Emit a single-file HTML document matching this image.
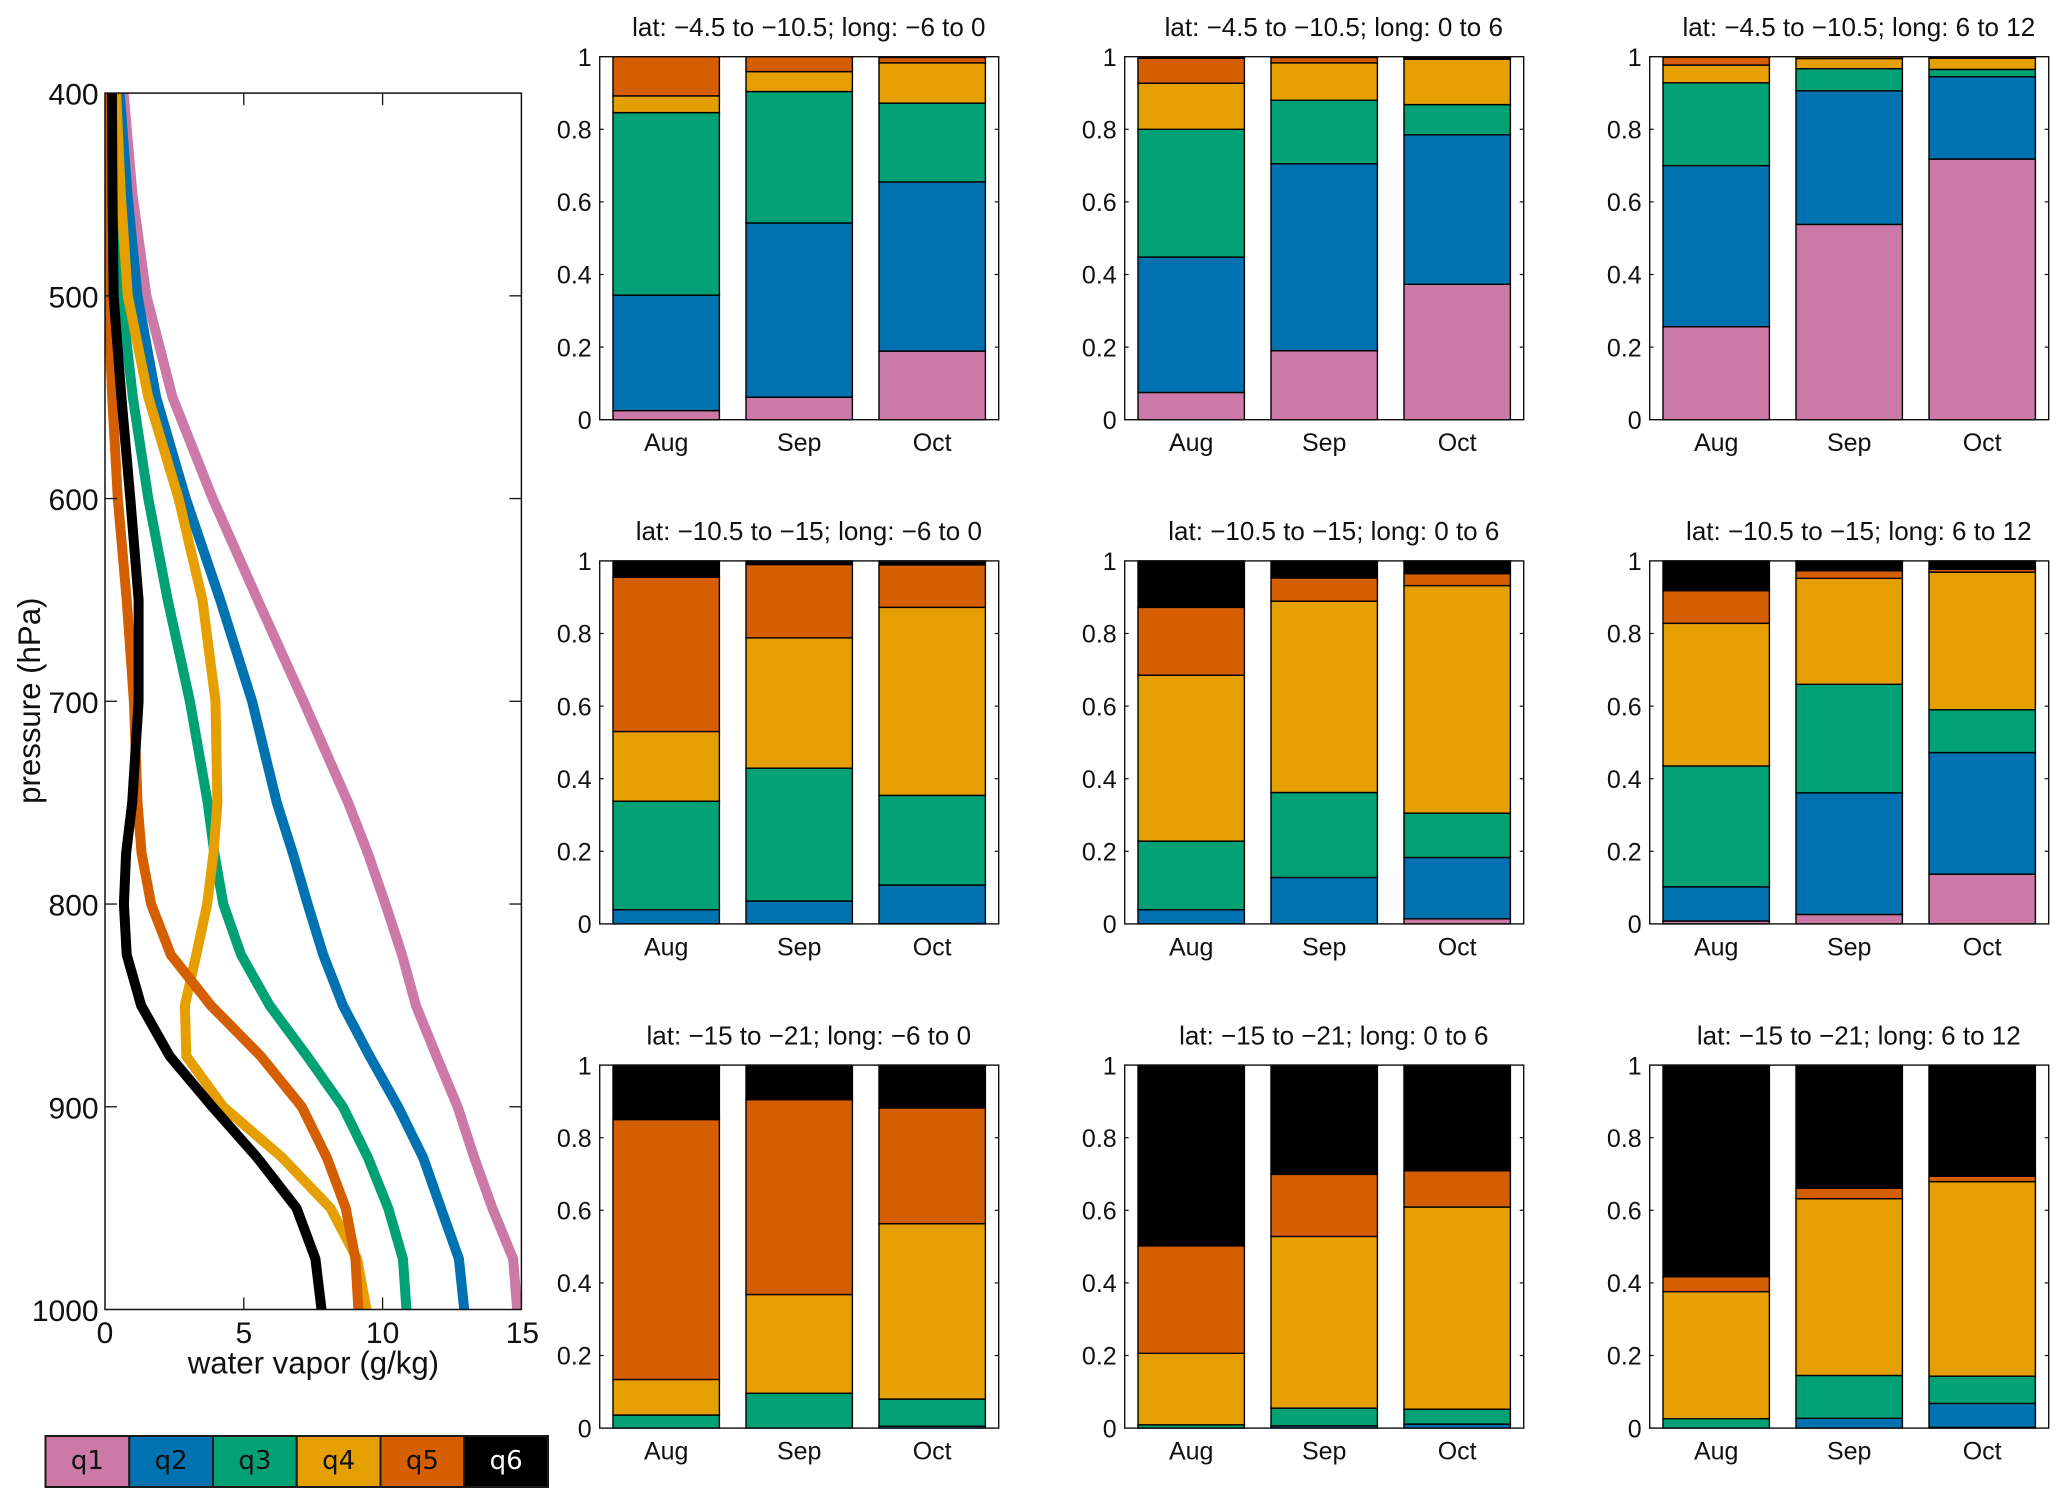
<!DOCTYPE html>
<html lang="en">
<head>
<meta charset="utf-8">
<title>Water vapor profiles and monthly quantile shares</title>
<style>
html,body{margin:0;padding:0;background:#fff;}
svg{display:block;font-family:"Liberation Sans",Arial,sans-serif;}
</style>
</head>
<body>
<svg id="figure" xmlns="http://www.w3.org/2000/svg" width="2067" height="1506" viewBox="0 0 2067 1506">
  <rect x="0" y="0" width="2067" height="1506" fill="#fff"/>
  <g id="profile-chart"></g>
  <g id="share-panels"></g>
  <g id="legend"></g>
</svg>
<script>
// ---------- Profile chart data ----------
const pressureLevels = [400,450,500,550,600,650,700,750,775,800,825,850,875,900,925,950,975,1000];
const q1Profile = [0.67,0.99,1.49,2.43,3.88,5.50,7.15,8.76,9.47,10.10,10.70,11.20,11.94,12.70,13.30,13.95,14.70,14.85];
const q2Profile = [0.53,0.81,1.17,1.84,2.91,4.15,5.30,6.19,6.77,7.30,7.86,8.57,9.53,10.56,11.46,12.10,12.75,12.94];
const q3Profile = [0.35,0.50,0.59,1.00,1.56,2.26,3.06,3.70,3.94,4.26,4.90,5.93,7.28,8.57,9.47,10.20,10.73,10.86];
const q4Profile = [0.40,0.57,0.82,1.56,2.65,3.51,3.98,4.05,3.91,3.68,3.29,2.88,2.93,4.26,6.38,8.12,9.08,9.42];
const q5Profile = [0.05,0.08,0.12,0.26,0.46,0.78,1.04,1.17,1.32,1.66,2.37,3.81,5.61,7.09,7.99,8.67,9.02,9.13];
const q6Profile = [0.25,0.27,0.31,0.59,0.91,1.21,1.21,0.98,0.76,0.68,0.78,1.30,2.33,3.87,5.48,6.90,7.58,7.80];
const profileXTicks = [0,5,10,15];
const profileYTicks = [400,500,600,700,800,900,1000];

// ---------- Stacked bar data: cumulative top of each quantile, per panel then month ----------
const latBands = ["\u22124.5 to \u221210.5","\u221210.5 to \u221215","\u221215 to \u221221"];
const lonBands = ["\u22126 to 0","0 to 6","6 to 12"];
const monthLabels = ["Aug","Sep","Oct"];
const shareTicks = ["0","0.2","0.4","0.6","0.8","1"];
const q1Top = [
  [0.025,0.062,0.189],[0.075,0.190,0.373],[0.256,0.538,0.718],
  [0,0,0.001],[0,0,0.014],[0.008,0.026,0.137],
  [0,0,0],[0,0,0],[0,0,0.002]];
const q2Top = [
  [0.343,0.542,0.655],[0.448,0.705,0.785],[0.700,0.906,0.945],
  [0.039,0.063,0.107],[0.039,0.128,0.183],[0.102,0.361,0.472],
  [0,0,0.005],[0,0.006,0.011],[0,0.027,0.068]];
const q3Top = [
  [0.846,0.904,0.872],[0.800,0.880,0.868],[0.928,0.967,0.965],
  [0.338,0.429,0.354],[0.228,0.362,0.305],[0.435,0.660,0.590],
  [0.036,0.096,0.080],[0.009,0.055,0.052],[0.026,0.145,0.143]];
const q4Top = [
  [0.892,0.959,0.983],[0.927,0.983,0.993],[0.977,0.995,0.996],
  [0.530,0.788,0.872],[0.685,0.889,0.932],[0.828,0.952,0.969],
  [0.134,0.368,0.563],[0.206,0.528,0.609],[0.376,0.632,0.679]];
const q5Top = [
  [1,1,0.998],[0.996,0.998,0.997],[0.999,1,1],
  [0.955,0.990,0.989],[0.872,0.953,0.965],[0.918,0.973,0.977],
  [0.850,0.905,0.882],[0.502,0.699,0.709],[0.417,0.661,0.694]];
const q6Top = [
  [1,1,1],[1,1,1],[1,1,1],
  [1,1,1],[1,1,1],[1,1,1],
  [1,1,1],[1,1,1],[1,1,1]];

// ---------- Legend data ----------
const quantileNames = ["q1","q2","q3","q4","q5","q6"];
const quantileColors = ["#CC79A7","#0072B2","#00A174","#E69F00","#D55E00","#000000"];

const NS = "http://www.w3.org/2000/svg";
function make(tag, parent, attrs, text) {
  const el = document.createElementNS(NS, tag);
  for (const k in attrs) el.setAttribute(k, attrs[k]);
  if (text !== undefined) el.textContent = text;
  parent.appendChild(el);
  return el;
}

// ---------- Profile chart ----------
(function drawProfile() {
  const root = document.getElementById("profile-chart");
  const L = 105, R = 521.4, T = 93.1, B = 1309.5;
  const sx = v => L + (v - 0) / 15 * (R - L);
  const sy = p => T + (p - 400) / 600 * (B - T);

  const clip = make("clipPath", root, {id: "profile-clip"});
  make("rect", clip, {x: L, y: T, width: R - L, height: B - T});

  const profiles = [q1Profile, q2Profile, q3Profile, q4Profile, q5Profile, q6Profile];
  const lines = make("g", root, {"clip-path": "url(#profile-clip)"});
  
  
  profiles.forEach((vals, s) => {
    const pts = vals.map((v, i) => sx(v).toFixed(1) + "," + sy(pressureLevels[i]).toFixed(1)).join(" ");
    const line = make("polyline", lines, {points: pts, fill: "none", stroke: quantileColors[s], "stroke-width": 10, "stroke-linejoin": "miter"});
    
    
  });

  const frame = make("rect", root, {x: L, y: T, width: R - L, height: B - T, fill: "none", stroke: "#111", "stroke-width": 1.5});
  
  

  profileXTicks.forEach(t => {
    const x = sx(t);
    if (t > 0 && t < 15) {
      const a = make("line", root, {x1: x, x2: x, y1: T, y2: T + 12, stroke: "#111", "stroke-width": 1.3});
      
      
      const b = make("line", root, {x1: x, x2: x, y1: B, y2: B - 12, stroke: "#111", "stroke-width": 1.3});
      
      
    }
    const lab = make("text", root, {x: x + (t === 15 ? 1 : 0), y: 1343, "text-anchor": "middle", "font-size": 30, fill: "#111"}, String(t));
    
    
  });

  profileYTicks.forEach(p => {
    const y = sy(p);
    if (p > 400 && p < 1000) {
      const a = make("line", root, {x1: L, x2: L + 12, y1: y, y2: y, stroke: "#111", "stroke-width": 1.3});
      
      
      const b = make("line", root, {x1: R, x2: R - 12, y1: y, y2: y, stroke: "#111", "stroke-width": 1.3});
      
      
    }
    const lab = make("text", root, {x: 98.6, y: y + 11.6, "text-anchor": "end", "font-size": 30, fill: "#111"}, String(p));
    
    
  });

  const xt = make("text", root, {x: 313.4, y: 1373.7, "text-anchor": "middle", "font-size": 31.2, fill: "#111"}, "water vapor (g/kg)");
  
  
  const yt = make("text", root, {x: 40, y: 700.7, "text-anchor": "middle", "font-size": 31.2, fill: "#111", transform: "rotate(-90 40 700.7)"}, "pressure (hPa)");
  
  
})();

// ---------- Stacked bar panels ----------
(function drawPanels() {
  const root = document.getElementById("share-panels");
  const firstLeft = 599.7, colStep = 525, panelW = 399;
  const firstTop = 56.7, rowStep = 504.2, panelH = 363;
  const tops = [q1Top, q2Top, q3Top, q4Top, q5Top, q6Top];

  latBands.forEach((lat, r) => {
    lonBands.forEach((lon, c) => {
      const idx = r * 3 + c;
      const L = firstLeft + c * colStep, T = firstTop + r * rowStep, B = T + panelH, R = L + panelW;
      const sx = m => L + (m + 0.5) / 3 * panelW;      // m = month index
      const sy = v => B - v * panelH;
      const barW = 0.8 / 3 * panelW;

      const g = make("g", root, {});
      
      

      monthLabels.forEach((month, m) => {
        let base = 0;
        tops.forEach((series, s) => {
          const top = series[idx][m];
          const bar = make("rect", g, {
            x: (sx(m) - barW / 2).toFixed(2), y: sy(top).toFixed(2),
            width: barW.toFixed(2), height: Math.max(0, (top - base) * panelH).toFixed(2),
            fill: quantileColors[s], stroke: "#000", "stroke-width": 1.4
          });
          
          
          base = top;
        });
        const lab = make("text", g, {x: sx(m), y: B + 31.4, "text-anchor": "middle", "font-size": 25, fill: "#111"}, month);
        
        
      });

      const frame = make("rect", g, {x: L, y: T, width: panelW, height: panelH, fill: "none", stroke: "#111", "stroke-width": 1.4});
      
      

      shareTicks.forEach(t => {
        const y = sy(parseFloat(t));
        if (t !== "0" && t !== "1") {
          const a = make("line", g, {x1: L, x2: L + 4, y1: y, y2: y, stroke: "#111", "stroke-width": 1.2});
          
          
          const b = make("line", g, {x1: R, x2: R - 4, y1: y, y2: y, stroke: "#111", "stroke-width": 1.2});
          
          
        }
        const lab = make("text", g, {x: L - 8, y: y + 9.2, "text-anchor": "end", "font-size": 25, fill: "#111"}, t);
        
        
      });

      const title = make("text", g, {x: L + panelW / 2 + 9.6, y: T - 20.7, "text-anchor": "middle", "font-size": 26, fill: "#111"}, "lat: " + lat + "; long: " + lon);
      
      
    });
  });
})();

// ---------- Legend ----------
(function drawLegend() {
  const root = document.getElementById("legend");
  const left = 45.5, right = 548, top = 1436, bottom = 1487;
  const cellW = (right - left) / quantileNames.length;
  quantileNames.forEach((name, i) => {
    const cell = make("g", root, {});
    
    
    const x = left + i * cellW;
    const swatch = make("rect", cell, {x: x, y: top, width: cellW, height: bottom - top, fill: quantileColors[i], stroke: "#1a1a1a", "stroke-width": 2});
    
    
    const lab = make("text", cell, {x: x + cellW / 2, y: 1468.8, "text-anchor": "middle", "font-size": 26, fill: i === 5 ? "#fff" : "#111", style: 'font-family:"DejaVu Sans",sans-serif'}, name);
    
    
  });
})();
</script>
</body>
</html>
